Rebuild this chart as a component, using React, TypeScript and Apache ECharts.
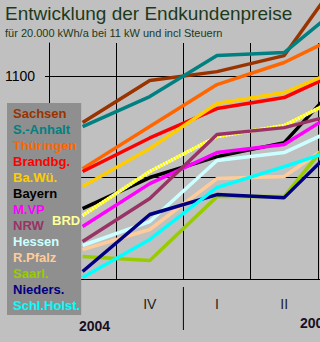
import { useEffect, useRef } from "react";
import * as echarts from "echarts";

// Quarters: III/2004, IV/2004, I/2005, II/2005, III/2005
const quarters = ["III", "IV", "I", "II", "III"];
const years = ["2004", "2005"];
const yTicks = { min: 1000, max: 1116.3, interval: 50, labelled: [1100] };

const sachsen = [1077.1, 1097.8, 1102.2, 1110.1, 1156.4];
const sAnhalt = [1075.1, 1089.9, 1110.1, 1111.6, 1138.7];
const thueringen = [1054.4, 1075.1, 1095.8, 1106.7, 1122.9];
const brandenburg = [1053.0, 1069.5, 1084.0, 1089.4, 1104.7];
const baWue = [1045.6, 1064.3, 1086.5, 1091.9, 1105.7];
const bayern = [1034.7, 1050.0, 1060.3, 1067.2, 1103.2];
const mvp = [1025.9, 1047.0, 1062.3, 1066.3, 1086.9];
const brd = [1031.3, 1053.0, 1070.2, 1075.6, 1092.4];
const nrw = [1018.5, 1039.7, 1071.2, 1074.6, 1083.0];
const hessen = [1016.5, 1028.3, 1058.4, 1062.3, 1077.6];
const rPfalz = [1014.5, 1024.4, 1049.5, 1050.5, 1073.2];
const saarl = [1011.1, 1009.1, 1040.6, 1040.6, 1081.5];
const nieders = [1003.7, 1031.8, 1041.6, 1040.1, 1072.7];
const schlHolst = [1000.7, 1019.5, 1045.1, 1055.4, 1066.3];

const FONT = "'Liberation Sans', Arial, sans-serif";
const GRID = { left: 49, top: 43, band: 67.2, height: 236 };

const lines = [
  { name: "Sachsen", data: sachsen, color: "#993300" },
  { name: "S.-Anhalt", data: sAnhalt, color: "#008080" },
  { name: "Thüringen", data: thueringen, color: "#ff6600" },
  { name: "Brandbg.", data: brandenburg, color: "#ff0000" },
  { name: "Ba.Wü.", data: baWue, color: "#ffcc00" },
  { name: "Bayern", data: bayern, color: "#000000" },
  { name: "M.VP", data: mvp, color: "#ff00ff" },
  { name: "BRD", data: brd, color: "#ffff00" },
  { name: "NRW", data: nrw, color: "#993366" },
  { name: "Hessen", data: hessen, color: "#ccffff" },
  { name: "R.Pfalz", data: rPfalz, color: "#ffcc99" },
  { name: "Saarl.", data: saarl, color: "#99cc00" },
  { name: "Nieders.", data: nieders, color: "#000080" },
  { name: "Schl.Holst.", data: schlHolst, color: "#00ffff" },
];

export default function App() {
  const ref = useRef<HTMLDivElement>(null);
  useEffect(() => {
    document.body.style.margin = "0";
    const chart = echarts.init(ref.current!, null, { renderer: "svg" });
    const series: any[] = [];
    lines.forEach((l) => {
      series.push({
        name: l.name,
        type: "line",
        data: l.data,
        showSymbol: false,
        clip: false,
        lineStyle: { color: l.color, width: 3.5 },
        itemStyle: { color: l.color },
      });
      if (l.name === "BRD") {
        series.push({
          name: "BRD-Raster",
          type: "line",
          data: l.data,
          showSymbol: false,
          clip: false,
          lineStyle: { color: "#ffffff", width: 3.5, type: [1, 2] },
          itemStyle: { color: "#ffffff" },
        });
      }
    });
    const legendNames = lines.filter((l) => l.name !== "BRD");
    const sepX = GRID.left + 2 * GRID.band;
    const bottom = GRID.top + GRID.height;
    const option: any = {
      animation: false,
      backgroundColor: "#c0c0c0",
      textStyle: { fontFamily: FONT },
      title: {
        text: "Entwicklung der Endkundenpreise",
        subtext: "für 20.000 kWh/a bei 11 kW und incl Steuern",
        left: 5,
        top: 4,
        padding: 0,
        itemGap: 4,
        textStyle: { fontFamily: FONT, fontSize: 19, fontWeight: "normal", color: "#1c3a1c" },
        subtextStyle: { fontFamily: FONT, fontSize: 11, color: "#1c3a1c" },
      },
      legend: [
        {
          orient: "vertical",
          left: 7,
          top: 103,
          padding: [2, 1, 1, 1],
          itemGap: 0.08,
          itemWidth: 0,
          itemHeight: 16,
          icon: "none",
          selectedMode: false,
          backgroundColor: "#8f8f8f",
          z: 10,
          textStyle: { fontFamily: FONT, fontSize: 13, fontWeight: "bold", lineHeight: 16 },
          data: legendNames.map((l) => ({ name: l.name, icon: "none", textStyle: { color: l.color } })),
        },
        {
          orient: "vertical",
          left: 47,
          top: 212,
          padding: 0,
          itemWidth: 0,
          itemHeight: 16,
          icon: "none",
          selectedMode: false,
          z: 11,
          textStyle: { fontFamily: FONT, fontSize: 13, fontWeight: "bold", lineHeight: 16, color: "#ffff99" },
          data: [{ name: "BRD", icon: "none", textStyle: { color: "#ffff99" } }],
        },
      ],
      grid: {
        left: GRID.left,
        top: GRID.top,
        width: GRID.band * quarters.length,
        height: GRID.height,
        containLabel: false,
        outerBoundsMode: "none",
      },
      xAxis: {
        type: "category",
        data: quarters,
        boundaryGap: true,
        position: "bottom",
        axisLine: { show: true, lineStyle: { color: "#000", width: 1 } },
        axisTick: { show: false },
        axisLabel: {
          interval: (i: number) => i > 0 && i < quarters.length - 1,
          margin: 18,
          fontFamily: FONT,
          fontSize: 14,
          color: "#222",
        },
        splitLine: { show: true, interval: 0, lineStyle: { color: "#000", width: 1 } },
      },
      yAxis: {
        type: "value",
        min: yTicks.min,
        max: yTicks.max,
        interval: yTicks.interval,
        axisLine: { show: true, lineStyle: { color: "#000", width: 1 } },
        axisTick: { show: true, length: 4, lineStyle: { color: "#000" } },
        axisLabel: {
          margin: 14,
          fontFamily: FONT,
          fontSize: 14,
          color: "#000",
          showMaxLabel: false,
          formatter: (v: number) => (yTicks.labelled.includes(v) ? String(v) : ""),
        },
        splitLine: { show: true, showMaxLine: false, lineStyle: { color: "#000", width: 1 } },
      },
      graphic: [
        {
          type: "line",
          z: 20,
          shape: { x1: sepX, y1: bottom + 8, x2: sepX, y2: bottom + 51 },
          style: { stroke: "#000", lineWidth: 1 },
        },
        {
          type: "text",
          x: 79,
          y: 326,
          z: 20,
          style: { text: years[0], font: `bold 14px ${FONT}`, fill: "#1a0f1f", verticalAlign: "middle" },
        },
        {
          type: "text",
          x: 300,
          y: 322.5,
          z: 20,
          style: { text: years[1], font: `bold 14px ${FONT}`, fill: "#1a0f1f", verticalAlign: "middle" },
        },
      ],
      series,
    };
    chart.setOption(option);
    return () => chart.dispose();
  }, []);
  return <div ref={ref} style={{ width: 320, height: 342 }} />;
}
